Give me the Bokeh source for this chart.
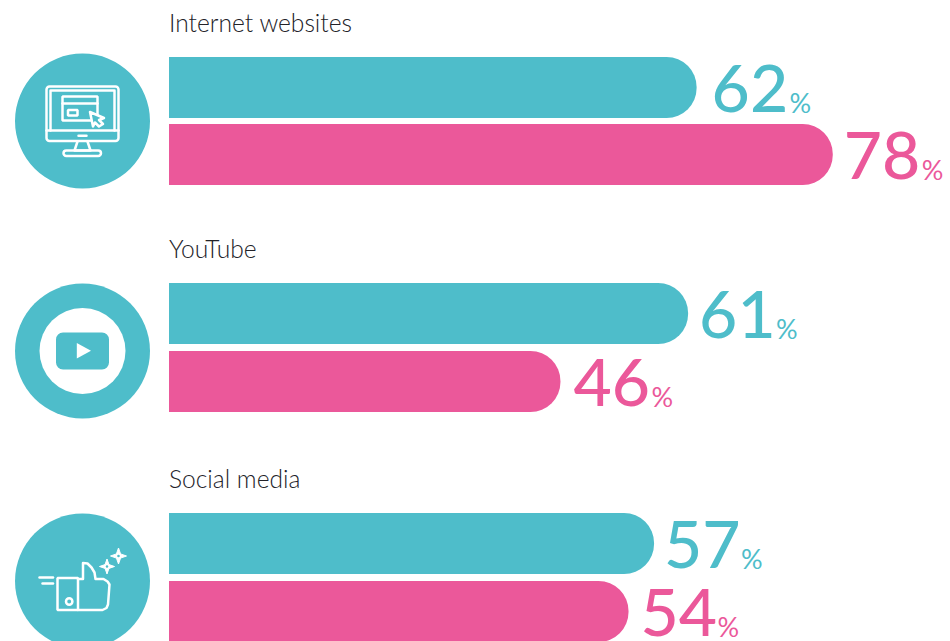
from bokeh.embed import file_html
from bokeh.resources import INLINE
from bokeh.plotting import figure
from bokeh.models import Range1d, ColumnDataSource
from bokeh.core.properties import value

WIDTH, HEIGHT = 950, 641
TEAL = "#4EBDCA"
PINK = "#EB589A"
INK = "#222228"
WHITE = "#FFFFFF"

# Survey shares, one teal and one pink bar per channel
channels = ["Internet websites", "YouTube", "Social media"]
teal_values = [62, 61, 57]
pink_values = [78, 46, 54]
teal_num_offsets = [15, 11, 10]
pink_num_offsets = [11, 13, 12]
teal_pct_offsets = [93, 88, 87]
pink_pct_offsets = [89, 91, 89]

# Vertical layout of each block, in page pixels
title_y = [31, 257, 487]
teal_top = [56.5, 282.5, 512.5]
pink_top = [123.5, 350.5, 580.5]
icon_cy = [120.5, 350.5, 580.5]
BAR_H = 61
ICON_CX, ICON_R = 82, 67.5

LEFT = 168.5
SCALE = 8.51
NUM_SIZE, PCT_SIZE, TITLE_SIZE = 66, 27, 24.6
BASELINE_SHIFT = 0.36  # fraction of the font size the renderer drops text by
STROKE = 2.5

p = figure(
    width=WIDTH, height=HEIGHT, output_backend="svg", toolbar_location=None,
    x_range=Range1d(-LEFT / SCALE, (WIDTH - LEFT) / SCALE),
    y_range=Range1d(HEIGHT, 0),
    min_border=0, outline_line_color=None,
)
p.axis.visible = False
p.grid.visible = False
p.extra_x_ranges["px"] = Range1d(0, WIDTH)


def add_bars(values, tops, color, num_offsets, pct_offsets):
    src = ColumnDataSource(dict(
        right=values,
        top=tops,
        bottom=[t + BAR_H for t in tops],
        base=[t + BAR_H - 5.5 for t in tops],
        label=[str(v) for v in values],
        pct=["%"] * len(values),
        num_off=num_offsets,
        pct_off=pct_offsets,
    ))
    p.quad(left=0, right="right", top="top", bottom="bottom", source=src,
           fill_color=color, line_color=None, border_radius=(0, 30, 30, 0))
    p.text(x="right", y="base", text="label", source=src, x_offset="num_off",
           y_offset=-BASELINE_SHIFT * NUM_SIZE,
           text_color=color, text_font=value("Lato Medium"), text_font_size=f"{NUM_SIZE}px",
           text_baseline="alphabetic")
    p.text(x="right", y="base", text="pct", source=src, x_offset="pct_off",
           y_offset=-BASELINE_SHIFT * PCT_SIZE,
           text_color=color, text_font=value("Lato"), text_font_size=f"{PCT_SIZE}px",
           text_baseline="alphabetic")


add_bars(teal_values, teal_top, TEAL, teal_num_offsets, teal_pct_offsets)
add_bars(pink_values, pink_top, PINK, pink_num_offsets, pink_pct_offsets)

p.text(x=[0] * 3, y=title_y, text=channels, text_color=INK,
       y_offset=-BASELINE_SHIFT * TITLE_SIZE,
       text_font=value("Lato Light"), text_font_size=f"{TITLE_SIZE}px",
       text_baseline="alphabetic")

# Icon discs
p.circle(x=[ICON_CX] * 3, y=icon_cy, radius=ICON_R, fill_color=TEAL, line_color=None,
         x_range_name="px")


def outline(xs, ys, width=STROKE):
    p.line(xs, ys, line_color=WHITE, line_width=width, line_join="round", line_cap="round",
           x_range_name="px")


def box(l, r, t, b, radius=0, width=STROKE):
    p.quad(left=[l], right=[r], top=[t], bottom=[b], fill_color=None, line_color=WHITE,
           line_width=width, border_radius=radius, x_range_name="px")


# Monitor icon
box(46, 118, 86, 140.5, radius=3)
outline([50, 50, 114, 114], [130, 90, 90, 130])
outline([46, 118], [130, 130])
outline([78, 86], [135.3, 135.3])
outline([77, 74, 90, 87], [141, 150, 150, 141])
box(63, 100.5, 150, 155.5, radius=3)
box(62, 97, 96, 120)
outline([62, 97], [103, 103])
box(67.5, 77, 109.5, 115)
p.patch([89.5, 103.5, 98.5, 102.5, 98.5, 94.5, 92.5],
        [111.5, 117.5, 119.5, 123.5, 126, 122, 126],
        fill_color=TEAL, line_color=WHITE, line_width=STROKE, line_join="round",
        x_range_name="px")

# Video icon
p.circle(x=[82], y=[350.5], radius=43, fill_color=WHITE, line_color=None, x_range_name="px")
p.quad(left=[55.5], right=[108.5], top=[332], bottom=[369], fill_color=TEAL, line_color=None,
       border_radius=7, x_range_name="px")
p.patch([76.3, 90.5, 76.3], [342.5, 350.3, 358], fill_color=WHITE, line_color=None,
        x_range_name="px")

# Thumbs-up icon
box(57, 77.5, 577.5, 609.5)
p.circle(x=[68.7], y=[601], radius=3.2, fill_color=None, line_color=WHITE, line_width=STROKE,
         x_range_name="px")
outline([39, 52.5], [577, 577])
outline([42, 52.5], [583, 583])
outline([77.5, 82.5, 82.5, 87, 91, 94, 95, 103, 107, 109, 107.5, 106, 102, 77.5],
        [578.5, 578.5, 562.5, 563, 567, 572, 578.5, 578.5, 581, 584, 604, 607.5, 609.5, 609.5])
for cx, cy, r in [(106.5, 566, 7.5), (118, 555.5, 8)]:
    k = r * 0.26
    p.patch([cx, cx + k, cx + r, cx + k, cx, cx - k, cx - r, cx - k],
            [cy - r, cy - k, cy, cy + k, cy + r, cy + k, cy, cy - k],
            fill_color=WHITE, line_color=WHITE, line_width=1, x_range_name="px")
    p.circle(x=[cx], y=[cy], radius=1.3, fill_color=TEAL, line_color=None, x_range_name="px")

open("out.html", "w").write(file_html(p, INLINE))
